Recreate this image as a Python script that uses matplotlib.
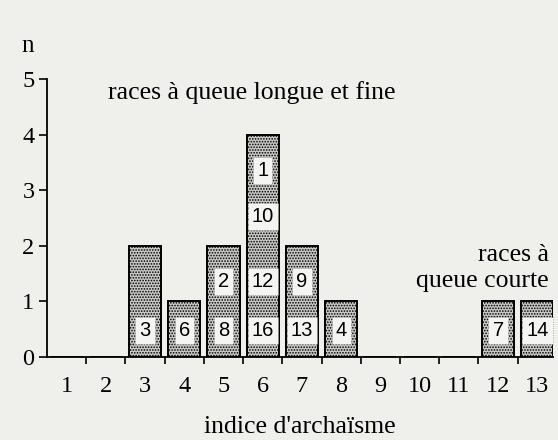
import matplotlib
matplotlib.use("Agg")
from matplotlib import pyplot as plt

# archaism index and number of breeds per index
indices = [1, 2, 3, 4, 5, 6, 7, 8, 9, 10, 11, 12, 13]
counts = [0, 0, 2, 1, 2, 4, 2, 1, 0, 0, 0, 1, 1]

# breed numbers written in the bars, from bottom to top
breed_labels = {
    3: ["3"],
    4: ["6"],
    5: ["8", "2"],
    6: ["16", "12", "10", "1"],
    7: ["13", "9"],
    8: ["4"],
    12: ["7"],
    13: ["14"],
}
label_offsets = [0.47, 1.36, 2.52, 3.36]

paper = "#efefec"
serif = "Liberation Serif"

fig = plt.figure(figsize=(5.58, 4.4), dpi=100, facecolor=paper)
ax = fig.add_axes([0.0842, 0.1886, 0.9068, 0.632])
ax.set_facecolor(paper)

plt.rcParams["hatch.color"] = "#6a6a6a"
plt.rcParams["hatch.linewidth"] = 0.8
ax.bar(indices, counts, width=0.82, facecolor="#c9c9c6", edgecolor="black",
       linewidth=1.4, hatch="......", zorder=2)

for idx, labs in breed_labels.items():
    for k, lab in enumerate(labs):
        ax.text(idx, label_offsets[k], lab, ha="center", va="center",
                fontsize=14.5, family="Liberation Sans", zorder=4,
                bbox=dict(boxstyle="square,pad=0.2", facecolor="#f4f4f2",
                          edgecolor="#9a9a9a", linewidth=0.6, linestyle=":"))

ax.set_xlim(0.5, 13.4)
ax.set_ylim(0, 5)
ax.spines["top"].set_visible(False)
ax.spines["right"].set_visible(False)
ax.spines["left"].set_linewidth(1.3)
ax.spines["bottom"].set_linewidth(1.3)

ax.set_yticks([0, 1, 2, 3, 4, 5])
ax.tick_params(axis="y", length=6, width=1.2, labelsize=17.5, pad=3)
# major x ticks invisible (labels only), minor ticks at category boundaries
ax.set_xticks(indices)
ax.set_xticks([i + 0.5 for i in indices[:-1]], minor=True)
ax.tick_params(axis="x", which="major", length=0, labelsize=17.5, pad=14)
ax.tick_params(axis="x", which="minor", length=5, width=1.2)
for lbl in ax.get_xticklabels() + ax.get_yticklabels():
    lbl.set_family(serif)

ax.text(0.0, 5.6, "n", fontsize=18, family=serif, ha="center", va="center",
        clip_on=False)
ax.text(2.06, 4.75, "races à queue longue et fine", fontsize=18.5, family=serif,
        ha="left", va="center")
ax.text(13.3, 1.6, "races à\nqueue courte", fontsize=18.5, family=serif,
        ha="right", va="center", linespacing=1.25)
ax.set_xlabel("indice d'archaïsme", fontsize=18.5, family=serif, labelpad=13)

fig.savefig("out.png", dpi=100, facecolor=paper)
